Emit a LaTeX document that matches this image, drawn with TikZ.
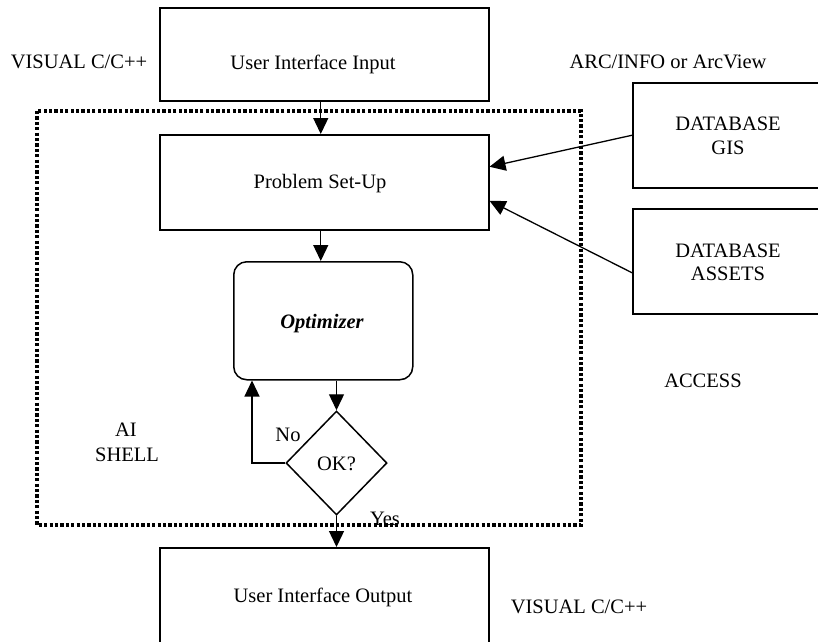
\documentclass[tikz,border=0pt]{standalone}
\usepackage{fontspec}
\setmainfont{Liberation Serif}
\usetikzlibrary{shapes.geometric,arrows.meta}

\tikzset{
  txt/.style={inner sep=0pt, font=\fontsize{20.5}{24}\selectfont},
  block/.style={draw, line width=1.5pt, rectangle, inner sep=0pt},
  conn/.style={line width=1.3pt, -{Triangle[length=16pt,width=15pt]}},
  shell/.style={line width=3.2pt, dash pattern=on 3.2pt off 2.2pt},
}

\begin{document}
\begin{tikzpicture}[x=1pt, y=-1pt]
  \useasboundingbox (0,0) rectangle (818,641);
  \clip (0,0) rectangle (818,641);

  % AI shell frame
  \draw[shell] (37,111) rectangle (581,525);

  % boxes
  \node[block, anchor=north west, minimum width=329pt, minimum height=93pt] (uiin) at (159,7) {};
  \node[block, anchor=north west, minimum width=329pt, minimum height=95pt] (setup) at (159,134) {};
  \node[block, anchor=north west, minimum width=179pt, minimum height=118pt, rounded corners=13pt] (opt) at (233,261) {};
  \node[block, draw, diamond, minimum width=101pt, minimum height=104pt] (ok) at (336.5,463) {};
  \node[block, anchor=north west, minimum width=329pt, minimum height=96pt] (uiout) at (159,547) {};
  \node[block, anchor=north west, minimum width=200pt, minimum height=105pt] (gis) at (632,82) {};
  \node[block, anchor=north west, minimum width=200pt, minimum height=105pt] (assets) at (632,208) {};

  % texts
  \node[txt, anchor=base] (uiintext) at (313,69) {User Interface Input};
  \node[txt, anchor=base] (setuptext) at (320,188) {Problem Set-Up};
  \node[txt, anchor=base, font=\fontsize{20.5}{24}\selectfont\bfseries\itshape] (opttext) at (322,328) {Optimizer};
  \node[txt, anchor=base] (oktext) at (336.5,470) {OK?};
  \node[txt, anchor=base] (uiouttext) at (323,602) {User Interface Output};
  \node[txt, anchor=base] (gistext1) at (728,130) {DATABASE};
  \node[txt, anchor=base] (gistext2) at (728,154) {GIS};
  \node[txt, anchor=base] (assetstext1) at (728,257) {DATABASE};
  \node[txt, anchor=base] (assetstext2) at (728,280) {ASSETS};
  \node[txt, anchor=base] (vistop) at (79,68) {VISUAL C/C++};
  \node[txt, anchor=base] (arcinfo) at (668,68) {ARC/INFO or ArcView};
  \node[txt, anchor=base] (access) at (703,387) {ACCESS};
  \node[txt, anchor=base] (aitext1) at (126,436) {AI};
  \node[txt, anchor=base] (aitext2) at (127,461) {SHELL};
  \node[txt, anchor=base] (visbot) at (579,613) {VISUAL C/C++};
  \node[txt, anchor=base] (notext) at (288,441) {No};
  \node[txt, anchor=base] (yestext) at (385,525) {Yes};

  % connectors
  \coordinate (setupout) at ([xshift=-3.5pt]setup.south);
  \draw[conn] ([xshift=-3.5pt]uiin.south) -- ([xshift=-3.5pt]setup.north);
  \draw[conn] (setupout) -- (opt.north -| setupout);
  \draw[conn] (opt.south -| ok.north) -- (ok.north);
  \draw[conn] (ok.west) -| ([xshift=19pt]opt.south west);
  \draw[conn] (ok.south) -- (uiout.north -| ok.south);
  \draw[conn] (gis.west) -- ([yshift=15.5pt]setup.east);
  \draw[conn] ([yshift=-11.5pt]assets.west) -- ([yshift=-18.5pt]setup.east);
\end{tikzpicture}
\end{document}
